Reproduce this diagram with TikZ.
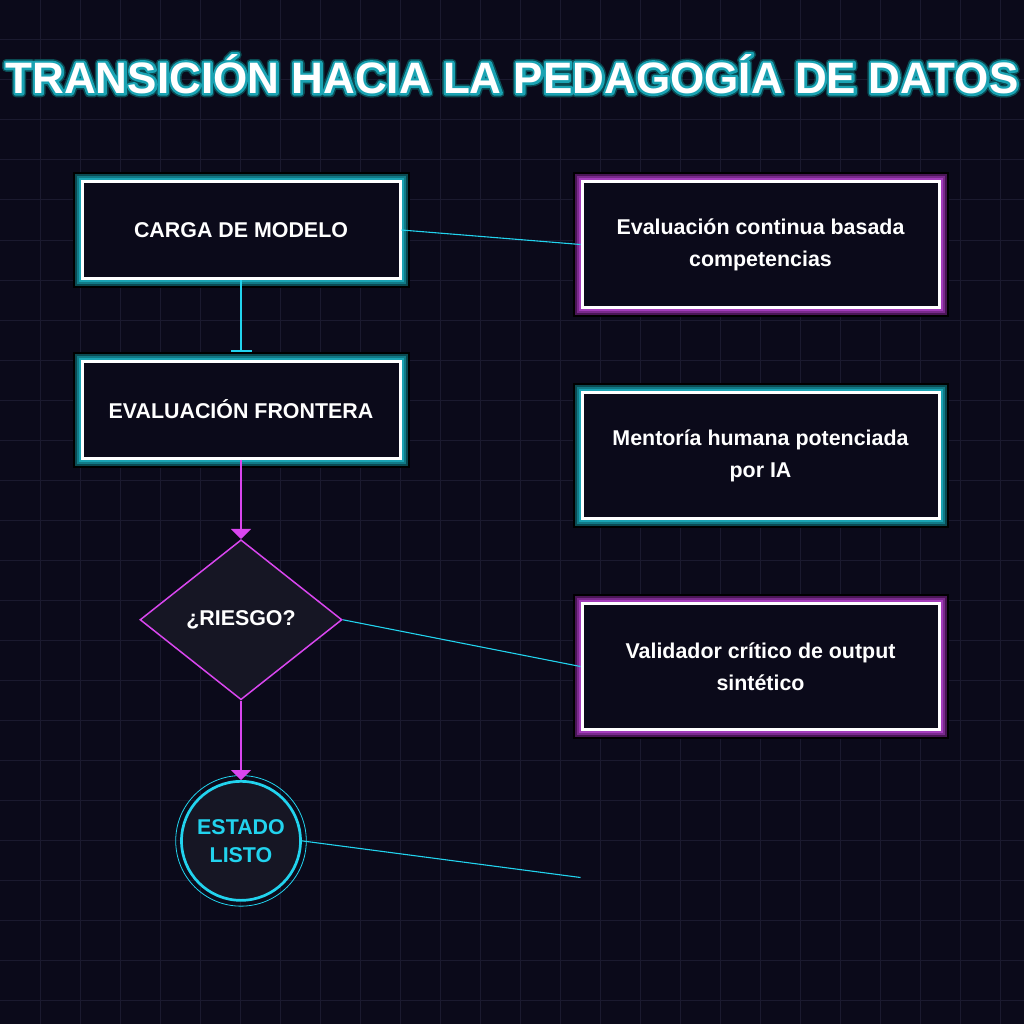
\documentclass[tikz,border=0pt]{standalone}
\usepackage{fontspec}
\setmainfont{Liberation Sans}
\newfontfamily\glowwide{Liberation Sans}[FakeBold=18]
\newfontfamily\glownarrow{Liberation Sans}[FakeBold=11]
\usepackage{xcolor}
\definecolor{Night}{HTML}{0B0A1A}
\definecolor{GridLine}{HTML}{1B1A2F}
\definecolor{Panel}{HTML}{161624}
\definecolor{Cyan}{HTML}{22D3EE}
\definecolor{Magenta}{HTML}{D946EF}
\definecolor{Teal}{HTML}{1AA3B3}
\definecolor{TealMid}{HTML}{117A86}
\definecolor{TealDeep}{HTML}{0A4A52}
\definecolor{Plum}{HTML}{A33CBA}
\definecolor{PlumMid}{HTML}{7A2A8C}
\definecolor{PlumDeep}{HTML}{4A1656}
\colorlet{night}{Night}
\colorlet{gridline}{GridLine}
\colorlet{panel}{Panel}
\colorlet{cyanx}{Cyan}
\colorlet{magentax}{Magenta}
\colorlet{tealx}{Teal}
\colorlet{tealmid}{TealMid}
\colorlet{tealdeep}{TealDeep}
\colorlet{plum}{Plum}
\colorlet{plummid}{PlumMid}
\colorlet{plumdeep}{PlumDeep}
\usepackage{tikz}
\usetikzlibrary{arrows.meta,positioning,shapes.geometric}

\newcommand{\headline}{TRANSICIÓN HACIA LA PEDAGOGÍA DE DATOS}

\begin{document}
\begin{tikzpicture}[x=1pt,y=-1pt,node distance=79.5pt,
  every node/.style={font=\bfseries\fontsize{21.4}{32}\selectfont,text=white,align=center,inner sep=0pt},
  headfont/.style={font=\bfseries\fontsize{44}{50}\selectfont},
  tealglow/.style={preaction={draw=black,line width=19pt},preaction={draw=tealdeep,line width=15pt},preaction={draw=tealmid,line width=11pt},preaction={draw=tealx,line width=7pt}},
  plumglow/.style={preaction={draw=black,line width=19pt},preaction={draw=plumdeep,line width=15pt},preaction={draw=plummid,line width=11pt},preaction={draw=plum,line width=7pt}},
  stagebox/.style={draw=white,line width=3pt,fill=night,minimum width=318pt,minimum height=97pt},
  notebox/.style={draw=white,line width=3pt,fill=night,minimum width=357pt,minimum height=126pt},
  flow/.style={draw=magentax,line width=2pt,-{Triangle[width=20pt,length=10pt]}},
  link/.style={draw=cyanx,line width=1.1pt}]
\useasboundingbox (0,0) rectangle (1024,1024);
\fill[night] (0,0) rectangle (1024,1024);
\foreach \k in {40,80,...,1000} {
  \draw[gridline,line width=1pt] (\k,0) -- (\k,1024);
  \draw[gridline,line width=1pt] (0,\k) -- (1024,\k);
}
% title with glow
\node[line join=round,text=tealdeep,font=\glowwide\bfseries\fontsize{44}{50}\selectfont] (glowdeep) at (512,74) {\headline};
\node[line join=round,text=tealx,font=\glownarrow\bfseries\fontsize{44}{50}\selectfont] (glowteal) at (512,74) {\headline};
\node[headfont] (title) at (512,74) {\headline};
% left column
\node[stagebox,tealglow] (load) at (241,230) {CARGA DE MODELO};
\node[stagebox,tealglow,below=of load] (front) {EVALUACIÓN FRONTERA};
\node[draw=magentax,line width=1.5pt,fill=panel,shape=diamond,aspect=1.26,minimum width=202pt,minimum height=160pt,below=of front] (risk) {¿RIESGO?};
\node[draw=cyanx,line width=2.7pt,fill=panel,circle,minimum size=119pt,text=cyanx,below=of risk,font=\bfseries\fontsize{21.4}{28}\selectfont] (ready) {ESTADO\\LISTO};
\draw[cyanx,line width=0.8pt] (ready.center) circle (65.3pt);
% right column
\node[notebox,plumglow,right=179pt of load.north east,anchor=north west] (eval) {Evaluación continua basada\\competencias};
\node[notebox,tealglow,below=82pt of eval] (mentor) {Mentoría humana potenciada\\por IA};
\node[notebox,plumglow,below=82pt of mentor] (valid) {Validador crítico de output\\sintético};
\coordinate[below=211pt of valid.west] (next);
% connectors
\draw[cyanx,line width=2pt,-{Bar[width=21pt]},shorten >=8pt] (load) -- (front);
\draw[flow] (front) -- (risk);
\draw[flow] (risk) -- (ready);
\draw[link] (load.east) -- (eval.west);
\draw[link] (risk.east) -- (valid.west);
\draw[link] (ready.east) -- (next);
\end{tikzpicture}
\end{document}
